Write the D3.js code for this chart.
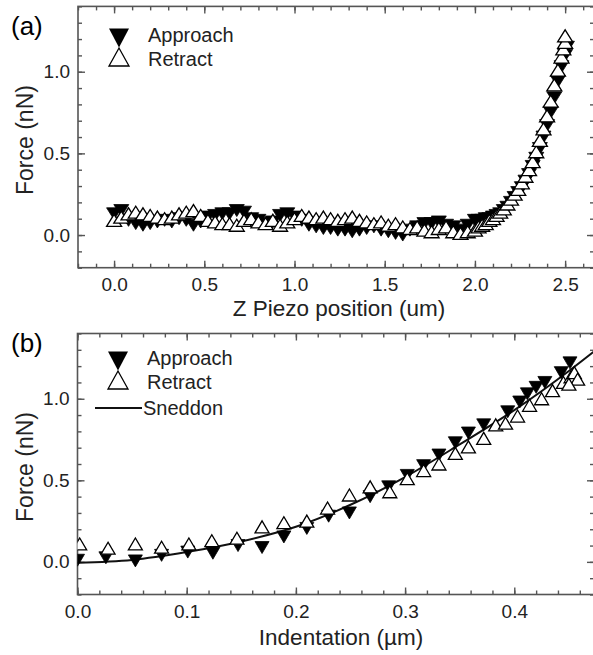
<!DOCTYPE html>
<html>
<head>
<meta charset="utf-8">
<script src="https://cdn.jsdelivr.net/npm/d3@7"></script>
<style>
  body { margin: 0; background: #fff; }
  svg { display: block; font-family: Arial, "Liberation Sans", sans-serif; }
</style>
</head>
<body>
<svg id="chart" width="593" height="655"></svg>
<script>
// ---- panel (a): force vs Z piezo position ----
const approachA = [[0.00,0.13],[0.04,0.15],[0.08,0.09],[0.12,0.07],[0.16,0.06],[0.20,0.07],[0.24,0.08],[0.28,0.09],[0.32,0.08],[0.36,0.10],
  [0.40,0.09],[0.44,0.06],[0.48,0.08],[0.52,0.11],[0.56,0.12],[0.60,0.13],[0.64,0.13],[0.68,0.15],[0.72,0.14],[0.76,0.10],
  [0.80,0.09],[0.84,0.07],[0.88,0.08],[0.92,0.12],[0.96,0.13],[1.00,0.11],[1.04,0.09],[1.08,0.06],[1.12,0.05],[1.16,0.04],
  [1.20,0.04],[1.24,0.03],[1.28,0.03],[1.32,0.02],[1.36,0.03],[1.40,0.04],[1.44,0.05],[1.48,0.03],[1.52,0.02],[1.56,0.01],
  [1.60,0.00],[1.64,0.03],[1.68,0.05],[1.72,0.07],[1.76,0.07],[1.80,0.08],[1.84,0.06],[1.88,0.05],[1.92,0.03],[1.96,0.06],
  [2.00,0.09],[2.02,0.09],[2.04,0.09],[2.06,0.10],[2.08,0.10],[2.10,0.11],[2.12,0.12],[2.14,0.13],[2.16,0.15],[2.18,0.17],
  [2.20,0.20],[2.22,0.23],[2.24,0.26],[2.26,0.29],[2.28,0.33],[2.30,0.37],[2.32,0.42],[2.34,0.47],[2.36,0.53],[2.38,0.60],
  [2.40,0.67],[2.42,0.75],[2.44,0.84],[2.46,0.94],[2.48,1.03],[2.50,1.10],[2.51,1.15]];
const retractA = [[0.00,0.09],[0.04,0.11],[0.08,0.13],[0.12,0.14],[0.16,0.13],[0.20,0.12],[0.24,0.11],[0.28,0.10],[0.32,0.11],[0.36,0.13],
  [0.40,0.14],[0.44,0.15],[0.48,0.12],[0.52,0.09],[0.56,0.08],[0.60,0.07],[0.64,0.07],[0.68,0.06],[0.72,0.09],[0.76,0.10],
  [0.80,0.08],[0.84,0.07],[0.88,0.09],[0.92,0.06],[0.96,0.08],[1.00,0.10],[1.04,0.12],[1.08,0.11],[1.12,0.10],[1.16,0.11],
  [1.20,0.10],[1.24,0.09],[1.28,0.10],[1.32,0.11],[1.36,0.09],[1.40,0.08],[1.44,0.07],[1.48,0.08],[1.52,0.06],[1.56,0.07],
  [1.60,0.05],[1.64,0.04],[1.68,0.05],[1.72,0.03],[1.76,0.02],[1.80,0.04],[1.84,0.05],[1.88,0.02],[1.92,0.01],[1.96,0.02],
  [2.00,0.03],[2.02,0.05],[2.04,0.06],[2.06,0.07],[2.08,0.09],[2.10,0.10],[2.12,0.12],[2.14,0.14],[2.16,0.16],[2.18,0.19],
  [2.20,0.22],[2.22,0.25],[2.24,0.28],[2.26,0.32],[2.28,0.36],[2.30,0.40],[2.32,0.45],[2.34,0.51],[2.36,0.58],[2.38,0.65],
  [2.40,0.73],[2.42,0.82],[2.44,0.92],[2.46,1.01],[2.48,1.09],[2.49,1.14],[2.50,1.18],[2.50,1.22]];
const xTicksA = [0, 0.5, 1.0, 1.5, 2.0, 2.5];

// ---- panel (b): force vs indentation ----
const approachB = [[0.000,0.01],[0.026,0.025],[0.053,0.006],[0.077,0.04],[0.101,0.06],[0.124,0.053],[0.147,0.10],[0.169,0.088],
  [0.189,0.153],[0.210,0.205],[0.230,0.28],[0.249,0.30],[0.268,0.40],[0.285,0.46],[0.302,0.53],[0.317,0.59],[0.331,0.655],
  [0.346,0.73],[0.358,0.79],[0.372,0.84],[0.394,0.92],[0.405,0.98],[0.412,1.03],[0.420,1.07],[0.428,1.10],[0.443,1.16],[0.451,1.22]];
const retractB = [[0.002,0.11],[0.028,0.084],[0.053,0.11],[0.077,0.09],[0.102,0.11],[0.123,0.13],[0.146,0.145],[0.169,0.215],
  [0.189,0.24],[0.210,0.25],[0.229,0.33],[0.249,0.41],[0.268,0.46],[0.286,0.43],[0.302,0.51],[0.317,0.56],[0.331,0.60],
  [0.346,0.665],[0.358,0.705],[0.372,0.757],[0.383,0.84],[0.392,0.85],[0.403,0.894],[0.414,0.96],[0.425,1.00],[0.435,1.05],
  [0.445,1.10],[0.452,1.135],[0.455,1.16],[0.458,1.12],[0.450,1.09]];
const sneddonB = [[0.00,-0.005],[0.05,0.012],[0.10,0.06],[0.15,0.125],[0.20,0.215],[0.25,0.35],[0.30,0.52],[0.35,0.72],
  [0.40,0.93],[0.45,1.17],[0.475,1.30]];
const xTicksB = [0, 0.1, 0.2, 0.3, 0.4];

const yTicks = [0, 0.5, 1.0];
const seriesNames = ["Approach", "Retract", "Sneddon"];

const svg = d3.select("#chart");
const axisColor = "#555";
const textColor = "#222";

// triangle path centred on its bounding box
function tri(w, h, down) {
  const s = down ? -1 : 1;
  return `M${-w/2},${s*h/2}L${w/2},${s*h/2}L0,${-s*h/2}Z`;
}

function drawPanel(cfg) {
  const x = d3.scaleLinear().domain(cfg.xDomain).range(cfg.xRange);
  const y = d3.scaleLinear().domain([-0.2, 1.4]).range(cfg.yRange);
  const [x0, x1] = cfg.xRange, [y0, y1] = [cfg.yRange[1], cfg.yRange[0]];
  const g = svg.append("g");

  const clipId = "clip" + cfg.id;
  svg.append("clipPath").attr("id", clipId).append("rect")
    .attr("x", x0).attr("y", y0).attr("width", x1 - x0).attr("height", y1 - y0);

  const xMinor = d3.range(cfg.xDomain[0], cfg.xDomain[1] + 1e-9, cfg.xMinorStep);
  const yMinor = d3.range(-0.2, 1.4001, 0.1);

  const axes = [
    {make: d3.axisBottom, s: x, t: `translate(0,${y1})`, major: cfg.xTicks, minor: xMinor, labels: true, fmt: d3.format(".1f"), pad: 10},
    {make: d3.axisTop, s: x, t: `translate(0,${y0})`, major: cfg.xTicks, minor: xMinor, labels: false},
    {make: d3.axisLeft, s: y, t: `translate(${x0},0)`, major: yTicks, minor: yMinor, labels: true, fmt: d3.format(".1f"), pad: 8},
    {make: d3.axisRight, s: y, t: `translate(${x1},0)`, major: yTicks, minor: yMinor, labels: false}
  ];
  axes.forEach(ax => {
    const gm = g.append("g").attr("transform", ax.t)
      .call(ax.make(ax.s).tickValues(ax.minor).tickSize(-4).tickFormat(""));
    const gM = g.append("g").attr("transform", ax.t)
      .call(ax.make(ax.s).tickValues(ax.major).tickSize(-7)
        .tickPadding(ax.pad || 0).tickFormat(ax.labels ? ax.fmt : ""));
    [gm, gM].forEach(a => {
      a.select(".domain").remove();
      a.selectAll("line").attr("stroke", axisColor).attr("stroke-width", 1.4);
      a.selectAll("text").attr("fill", textColor).attr("font-size", 19)
        .attr("font-family", "Arial, 'Liberation Sans', sans-serif");
    });
  });

  // frame
  g.append("rect")
    .attr("x", x0).attr("y", y0).attr("width", x1 - x0).attr("height", y1 - y0)
    .attr("fill", "none").attr("stroke", axisColor).attr("stroke-width", 1.6);

  const plot = g.append("g").attr("clip-path", `url(#${clipId})`);

  if (cfg.fit) {
    plot.append("path")
      .datum(cfg.fit)
      .attr("fill", "none").attr("stroke", "#111").attr("stroke-width", 2)
      .attr("d", d3.line().x(d => x(d[0])).y(d => y(d[1])).curve(d3.curveMonotoneX));
  }

  plot.selectAll(".app").data(cfg.approach).join("path")
    .attr("class", "app")
    .attr("transform", d => `translate(${x(d[0])},${y(d[1])})`)
    .attr("d", tri(cfg.mw, cfg.mh, true))
    .attr("fill", "#000").attr("stroke", "#000").attr("stroke-width", 0.8);

  plot.selectAll(".ret").data(cfg.retract).join("path")
    .attr("class", "ret")
    .attr("transform", d => `translate(${x(d[0])},${y(d[1])})`)
    .attr("d", tri(cfg.mw, cfg.mh, false))
    .attr("fill", "#fff").attr("stroke", "#000").attr("stroke-width", 1.3);

  // panel letter
  svg.append("text").attr("x", 11).attr("y", cfg.letterY)
    .attr("font-size", 26).attr("fill", "#000").text(cfg.letter);

  // axis titles
  svg.append("text").attr("x", cfg.xTitleX).attr("y", cfg.xTitleY)
    .attr("text-anchor", "middle").attr("font-size", 22.5).attr("fill", textColor)
    .text(cfg.xTitle);
  svg.append("text")
    .attr("transform", `translate(33,${(y0 + y1) / 2 + 3}) rotate(-90)`)
    .attr("text-anchor", "middle").attr("font-size", 23).attr("fill", textColor)
    .text("Force (nN)");

  // legend
  const lg = svg.append("g").attr("transform", `translate(${cfg.legend[0]},${cfg.legend[1]})`);
  lg.append("path").attr("transform", "translate(0,0)").attr("d", tri(20, 19, true)).attr("fill", "#000");
  lg.append("path").attr("transform", "translate(0,19)").attr("d", tri(20, 18, false))
    .attr("fill", "#fff").attr("stroke", "#000").attr("stroke-width", 1.3);
  lg.append("text").attr("x", 29).attr("y", 4).attr("font-size", 20).attr("fill", textColor).text(seriesNames[0]);
  lg.append("text").attr("x", 29).attr("y", 28).attr("font-size", 20).attr("fill", textColor).text(seriesNames[1]);
  if (cfg.fit) {
    lg.append("line").attr("x1", -23).attr("x2", 24).attr("y1", 47).attr("y2", 47)
      .attr("stroke", "#111").attr("stroke-width", 2);
    lg.append("text").attr("x", 25).attr("y", 54).attr("font-size", 20).attr("fill", textColor).text(seriesNames[2]);
  }
}

drawPanel({
  id: "a", letter: "(a)", letterY: 35,
  xDomain: [-0.2, 2.66], xRange: [78, 594], yRange: [267.7, 6.4],
  xTicks: xTicksA, xMinorStep: 0.1,
  approach: approachA, retract: retractA, mw: 15, mh: 12,
  xTitle: "Z Piezo position (um)", xTitleX: 339, xTitleY: 316,
  legend: [119, 38]
});

drawPanel({
  id: "b", letter: "(b)", letterY: 352,
  xDomain: [0, 0.473], xRange: [77.5, 594], yRange: [594.5, 333.5],
  xTicks: xTicksB, xMinorStep: 0.02,
  approach: approachB, retract: retractB, fit: sneddonB, mw: 14, mh: 12,
  xTitle: "Indentation (\u00b5m)", xTitleX: 341, xTitleY: 645,
  legend: [118, 361]
});
</script>
</body>
</html>
